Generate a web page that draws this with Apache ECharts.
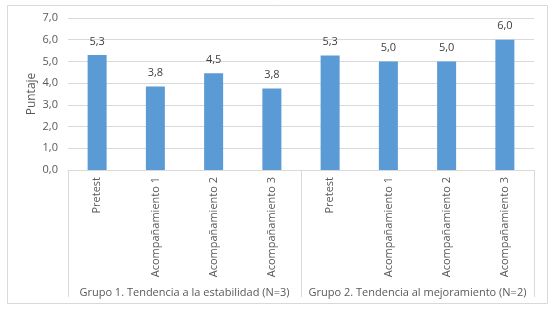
<!DOCTYPE html>
<html lang="es">
<head>
    <meta charset="UTF-8">
    <title>Puntaje por grupo</title>
    <script src="https://cdn.jsdelivr.net/npm/echarts@6/dist/echarts.min.js"></script>
    <style>
        body { margin: 0; background: #fff; }
    </style>
</head>
<body>
    <div id="chart" style="width:555px;height:314px;"></div>

    <script>
        // categorias y valores
        var categorias = ['Pretest', 'Acompañamiento 1', 'Acompañamiento 2', 'Acompañamiento 3',
                          'Pretest', 'Acompañamiento 1', 'Acompañamiento 2', 'Acompañamiento 3'];
        var grupos = ['Grupo 1. Tendencia a la estabilidad (N=3)', 'Grupo 2. Tendencia al mejoramiento (N=2)'];
        var puntajes = [5.3, 3.84, 4.46, 3.75, 5.27, 5.0, 5.0, 6.0];

        function coma(v) {
            return v.toFixed(1).replace('.', ',');
        }

        var chart = echarts.init(document.getElementById('chart'));
        var gris = '#595959';
        var fuente = '"Open Sans", sans-serif';

        var option = {
            animation: false,
            textStyle: { fontFamily: fuente },
            graphic: [{
                type: 'rect',
                shape: { x: 7.5, y: 5.5, width: 540, height: 298 },
                style: { fill: 'none', stroke: '#d9d9d9', lineWidth: 1 },
                silent: true
            }],
            grid: { left: 68, right: 21, top: 18, bottom: 144 },
            xAxis: [{
                type: 'category',
                data: categorias,
                axisLine: { lineStyle: { color: '#d9d9d9' } },
                axisTick: { show: false },
                axisLabel: {
                    rotate: 90,
                    color: gris,
                    fontSize: 11,
                    margin: 7,
                    interval: 0
                }
            }, {
                type: 'category',
                data: grupos,
                position: 'bottom',
                offset: 127,
                axisLine: { show: false },
                axisTick: { show: true, inside: true, length: 127, lineStyle: { color: '#d9d9d9' } },
                axisLabel: { color: gris, fontSize: 11, margin: -10, interval: 0 }
            }],
            yAxis: {
                type: 'value',
                min: 0,
                max: 7,
                interval: 1,
                name: 'Puntaje',
                nameLocation: 'middle',
                nameGap: 30,
                nameMoveOverlap: false,
                nameTextStyle: { color: gris, fontSize: 12 },
                axisLine: { show: false },
                axisTick: { show: false },
                axisLabel: { color: gris, fontSize: 11, margin: 10, formatter: coma },
                splitLine: { lineStyle: { color: '#d9d9d9' } }
            },
            series: [{
                type: 'bar',
                data: puntajes,
                barWidth: 19,
                itemStyle: { color: '#5b9bd5' },
                label: {
                    show: true,
                    position: 'top',
                    distance: 8,
                    color: '#404040',
                    fontSize: 11,
                    formatter: function (p) { return coma(Math.round(p.value * 10) / 10); }
                }
            }]
        };

        chart.setOption(option);
    </script>
</body>
</html>
